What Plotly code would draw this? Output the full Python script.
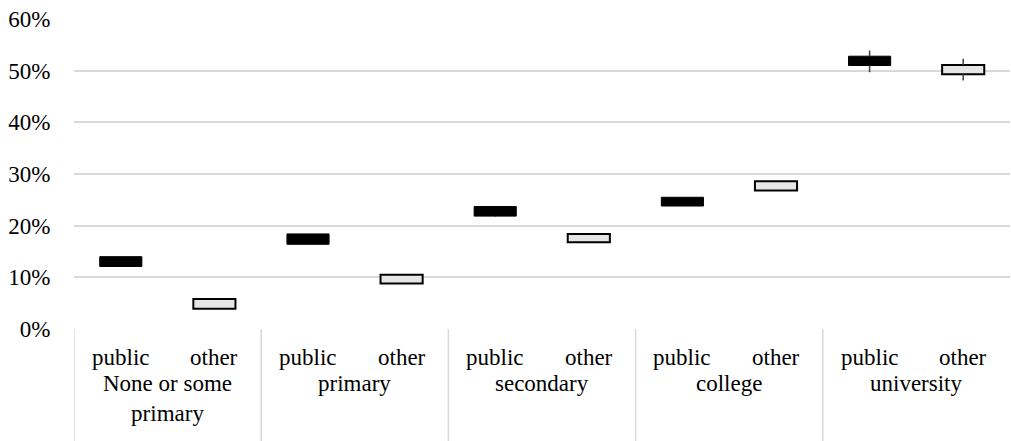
import plotly.graph_objects as go

# Education levels and the two school types within each
levels = ["None or some<br>primary", "primary", "secondary", "college", "university"]
types = ["public", "other"]

# Range boxes (box bottom / box top) and high-low whiskers, in fractions
public_low = [0.121, 0.164, 0.217, 0.238, 0.497]
public_open = [0.121, 0.164, 0.2185, 0.238, 0.510]
public_close = [0.140, 0.184, 0.237, 0.255, 0.528]
public_high = [0.140, 0.184, 0.237, 0.255, 0.539]

other_low = [0.039, 0.088, 0.168, 0.268, 0.481]
other_open = [0.039, 0.088, 0.168, 0.268, 0.493]
other_close = [0.058, 0.105, 0.184, 0.286, 0.511]
other_high = [0.058, 0.105, 0.184, 0.286, 0.523]

y_ticks = [0, 0.1, 0.2, 0.3, 0.4, 0.5, 0.6]
y_tick_text = ["0%", "10%", "20%", "30%", "40%", "50%", "60%"]

FONT = "Times New Roman, Liberation Serif, serif"
FS = 23
GRID = "#d9d9d9"

n = len(levels)
x_public = [2 * i for i in range(n)]
x_other = [2 * i + 1 for i in range(n)]


def whisker_xy(xs, lows, opens, closes, highs):
    # high-low lines drawn only outside the box
    wx, wy = [], []
    for x, lo, o, c, hi in zip(xs, lows, opens, closes, highs):
        if o - lo > 1e-9:
            wx += [x, x, None]
            wy += [lo, o, None]
        if hi - c > 1e-9:
            wx += [x, x, None]
            wy += [c, hi, None]
    return wx, wy


fig = go.Figure()

for xs, lows, opens, closes, highs in [
        (x_public, public_low, public_open, public_close, public_high),
        (x_other, other_low, other_open, other_close, other_high)]:
    wx, wy = whisker_xy(xs, lows, opens, closes, highs)
    fig.add_trace(go.Scatter(x=wx, y=wy, mode="lines",
                             line=dict(color="#404040", width=1.5),
                             hoverinfo="skip", showlegend=False))

fig.add_trace(go.Bar(
    x=x_public, base=public_open,
    y=[c - o for o, c in zip(public_open, public_close)],
    width=0.45, marker=dict(color="#000000", line=dict(color="#000000", width=1)),
    name="public", showlegend=False))

fig.add_trace(go.Bar(
    x=x_other, base=other_open,
    y=[c - o for o, c in zip(other_open, other_close)],
    width=0.45, marker=dict(color="#e7e6e6", line=dict(color="#000000", width=2)),
    name="other", showlegend=False))

PLOT_H = 441 - 19 - 112
annotations = []
for i, lvl in enumerate(levels):
    for j, t in enumerate(types):
        annotations.append(dict(
            x=2 * i + j, xref="x", y=-28 / PLOT_H, yref="paper",
            text=t, showarrow=False, xanchor="center", yanchor="middle",
            font=dict(family=FONT, size=FS, color="black")))
    annotations.append(dict(
        x=2 * i + 0.5, xref="x", y=-40 / PLOT_H, yref="paper",
        text=lvl, showarrow=False, xanchor="center", yanchor="top",
        font=dict(family=FONT, size=FS, color="black")))

shapes = []
for i in range(n):
    shapes.append(dict(type="line", xref="x", yref="paper",
                       x0=2 * i - 0.5, x1=2 * i - 0.5, y0=0, y1=-112 / PLOT_H,
                       line=dict(color=GRID, width=1.5)))

fig.update_layout(
    width=1011, height=441,
    margin=dict(l=74, r=1, t=19, b=112),
    plot_bgcolor="white", paper_bgcolor="white",
    font=dict(family=FONT, size=FS, color="black"),
    barmode="overlay",
    annotations=annotations, shapes=shapes,
    xaxis=dict(range=[-0.5, 2 * n - 0.5], showticklabels=False, showgrid=False,
               zeroline=False, showline=False, fixedrange=True),
    yaxis=dict(range=[0, 0.6], tickmode="array", tickvals=y_ticks, ticktext=y_tick_text,
               showgrid=True, gridcolor=GRID, gridwidth=1.5, zeroline=False,
               showline=False, ticks="outside", ticklen=18, tickcolor="rgba(0,0,0,0)",
               tickfont=dict(family=FONT, size=FS, color="black")),
)

fig.write_html("out.html")
